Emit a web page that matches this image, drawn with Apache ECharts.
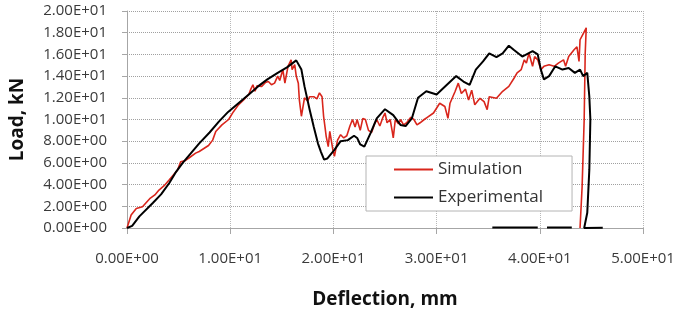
<!DOCTYPE html>
<html>
<head>
<meta charset="utf-8">
<script src="https://cdn.jsdelivr.net/npm/echarts@6/dist/echarts.min.js"></script>
<style>
html,body{margin:0;padding:0;background:#fff;}
#chart{width:682px;height:318px;}
</style>
</head>
<body>
<div id="chart"></div>
<script>
// Simulation curve (deflection mm, load kN)
var simX = [0,0.1,0.4,0.9,1.5,2.2,2.7,3.1,3.6,4.1,4.9,5.2,5.6,6.0,6.65,7.0,7.9,8.3,8.6,9.2,9.85,10.3,10.8,11.3,11.8,12.0,12.2,12.4,12.6,13.05,13.4,13.7,14.0,14.3,14.6,14.8,15.1,15.3,15.6,15.9,16.0,16.25,16.4,16.6,16.7,16.9,17.2,17.5,17.7,18.1,18.4,18.65,18.9,19.05,19.2,19.3,19.5,19.65,19.8,19.95,20.1,20.4,20.7,21.0,21.3,21.6,21.85,22.1,22.3,22.6,22.85,23.1,23.4,23.7,24.0,24.2,24.5,24.8,25.0,25.2,25.5,25.7,25.8,26.0,26.3,26.5,26.8,27.1,27.5,27.8,28.1,28.4,28.8,29.1,29.7,30.3,30.8,31.1,31.3,31.8,32.1,32.4,32.8,33.1,33.4,33.7,34.2,34.6,34.9,35.1,35.8,36.4,37.0,37.5,37.8,38.2,38.5,38.7,38.95,39.3,39.5,39.8,40.1,40.4,40.9,41.4,41.8,42.3,42.5,42.8,43.3,43.6,43.8,43.9,44.2,44.5,44.4,44.3,44.1,43.9];
var simY = [0,0.3,1.2,1.8,1.95,2.7,3.05,3.5,3.9,4.45,5.35,6.1,6.2,6.45,6.9,7.05,7.6,8.1,8.9,9.5,10.0,10.7,11.35,11.8,12.3,12.8,13.2,12.6,13.1,13.05,13.4,13.5,13.2,13.35,14.0,13.6,14.6,13.35,14.9,15.5,14.6,15.05,14.0,13.35,11.8,10.3,12.0,11.7,12.1,12.1,11.9,12.45,12.1,10.3,9.2,8.45,7.5,8.9,8.75,7.2,6.6,8.1,8.6,8.3,8.5,9.4,10.0,9.3,10.0,9.0,10.1,10.0,9.0,8.8,9.6,10.0,9.4,10.2,10.6,9.7,10.0,8.9,8.3,10.0,9.6,10.0,9.5,9.7,10.2,10.0,9.5,9.7,10.0,10.2,10.6,11.5,11.2,10.1,11.5,12.6,13.35,12.4,12.8,11.8,12.7,11.35,11.95,11.65,10.9,12.1,11.95,12.6,13.05,13.8,14.3,14.6,15.5,15.2,16.1,14.9,15.8,15.5,14.6,14.9,15.05,14.9,15.2,15.5,14.9,15.8,16.4,16.7,15.35,17.35,17.9,18.45,16.1,10.0,3.8,0];
// Experimental curve (deflection mm, load kN); null = gap in the trace
var expX = [0,0.5,1.2,2.5,3.3,4.1,4.7,5.4,6.2,7.0,8.0,8.9,9.8,10.8,11.8,12.7,13.6,14.6,15.5,16.4,16.9,17.2,17.7,18.1,18.5,18.8,19.1,19.4,20.1,20.7,21.4,22.0,22.3,22.6,23.0,23.6,24.2,25.0,25.8,26.5,27.0,27.6,28.2,29.0,30.0,31.0,31.9,32.6,33.2,33.8,34.5,35.1,35.8,36.4,37.0,37.5,38.3,39.3,39.8,40.1,40.4,40.9,41.5,42.2,42.8,43.4,43.9,44.2,44.6,44.8,44.9,44.8,44.6,44.3,46.1,46.1,35.4,39.8,39.8,40.7,43.1];
var expY = [0,0.2,1.07,2.3,3.1,4.15,5.1,6.0,6.9,7.8,8.8,9.8,10.7,11.5,12.3,13.05,13.7,14.3,14.8,15.45,14.6,13.05,10.9,9.3,7.8,7.0,6.3,6.4,7.2,8.0,8.1,8.5,8.3,7.7,7.5,8.75,10.1,10.95,10.4,9.5,9.4,10.1,12.0,12.6,12.3,13.2,14.0,13.5,13.2,14.6,15.35,16.1,15.75,16.1,16.8,16.4,15.8,16.3,16.0,14.6,13.7,14.0,14.9,14.6,14.75,14.3,14.6,14.0,14.3,12.1,10.0,5.4,1.4,0,0.03,null,0.05,0.05,null,0.05,0.05];
var seriesNames = ['Simulation', 'Experimental'];
var xTickLabels = ['0.00E+00','1.00E+01','2.00E+01','3.00E+01','4.00E+01','5.00E+01'];
var yTickLabels = ['0.00E+00','2.00E+00','4.00E+00','6.00E+00','8.00E+00','1.00E+01','1.20E+01','1.40E+01','1.60E+01','1.80E+01','2.00E+01'];
var xTitle = 'Deflection, mm';
var yTitle = 'Load, kN';

function zip(xs, ys){
  var out=[];
  for(var i=0;i<xs.length;i++){
    out.push(ys[i] === null ? [xs[i], '-'] : [xs[i], ys[i]]);
  }
  return out;
}

var chart = echarts.init(document.getElementById('chart'), null, {renderer:'canvas'});
var FONT = '"Open Sans", sans-serif';
chart.setOption({
  animation: false,
  backgroundColor: '#ffffff',
  grid: {left: 121, right: 39, top: 11, bottom: 90},
  legend: {
    data: seriesNames,
    orient: 'vertical',
    left: 366, top: 156,
    padding: [5, 29, 5, 28],
    icon: 'rect',
    itemWidth: 39, itemHeight: 2, itemGap: 11,
    backgroundColor: '#ffffff',
    borderColor: '#b4b4b4', borderWidth: 1,
    textStyle: {fontFamily: FONT, fontSize: 17, color: '#333333', lineHeight: 17}
  },
  xAxis: {
    type: 'value', min: 0, max: 50, interval: 10,
    name: xTitle, nameLocation: 'middle', nameGap: 62,
    nameTextStyle: {fontFamily: FONT, fontSize: 19, fontWeight: 'bold', color: '#111111'},
    axisLine: {show: true, lineStyle: {color: '#a6a6a6', width: 1}},
    axisTick: {show: true, length: 6, lineStyle: {color: '#a6a6a6'}},
    axisLabel: {fontFamily: FONT, fontSize: 15, color: '#3a3a3a', margin: 23,
      formatter: function(v){ return xTickLabels[Math.round(v/10)]; }},
    splitLine: {show: true, lineStyle: {type: 'dotted', color: '#b8b8b8', width: 1}}
  },
  yAxis: {
    type: 'value', min: 0, max: 20, interval: 2,
    name: yTitle, nameLocation: 'middle', nameGap: 100, nameRotate: 90,
    nameTextStyle: {fontFamily: FONT, fontSize: 19, fontWeight: 'bold', color: '#111111'},
    axisLine: {show: true, lineStyle: {color: '#a6a6a6', width: 1}},
    axisTick: {show: true, length: 5, lineStyle: {color: '#a6a6a6'}},
    axisLabel: {fontFamily: FONT, fontSize: 15, color: '#3a3a3a', margin: 20,
      formatter: function(v){ return yTickLabels[Math.round(v/2)]; }},
    splitLine: {show: true, lineStyle: {type: 'dotted', color: '#a0a0a0', width: 1}}
  },
  series: [
    {name: seriesNames[0], type: 'line', data: zip(simX, simY), symbol: 'none',
     lineStyle: {color: '#d9261c', width: 1.6}, itemStyle: {color: '#d9261c'}},
    {name: seriesNames[1], type: 'line', data: zip(expX, expY), symbol: 'none', connectNulls: false,
     lineStyle: {color: '#000000', width: 2}, itemStyle: {color: '#000000'}}
  ]
});
</script>
</body>
</html>
